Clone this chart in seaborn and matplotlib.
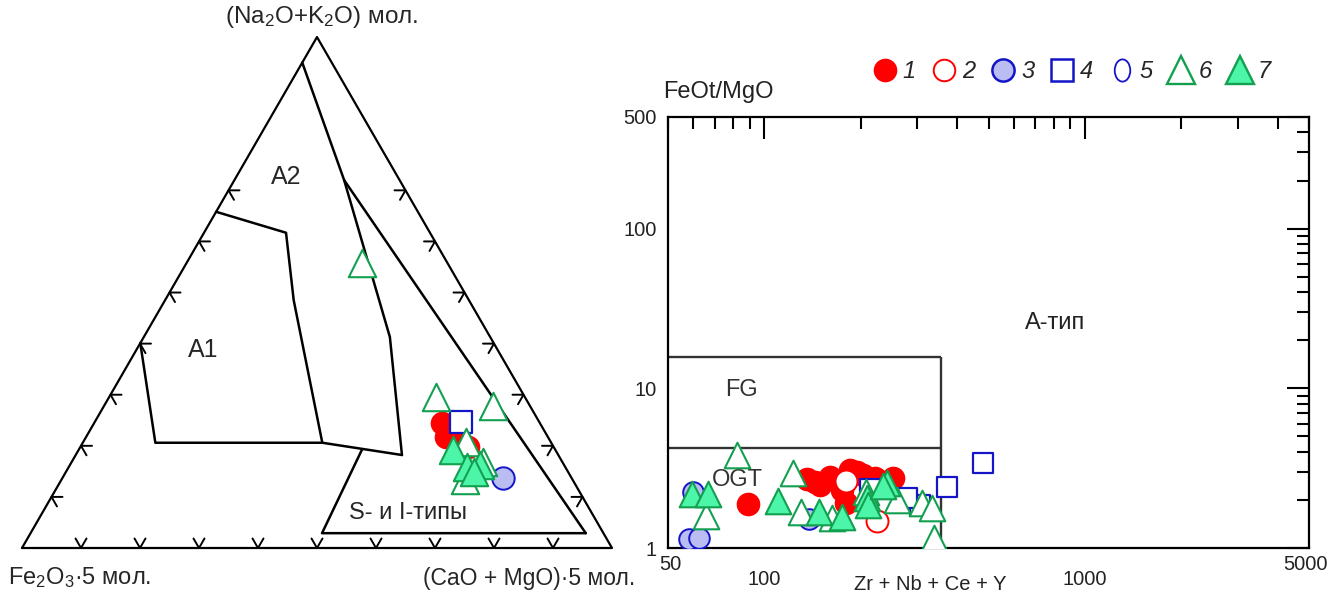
import numpy as np
import pandas as pd
import matplotlib
matplotlib.use('Agg')
import matplotlib.pyplot as plt
import seaborn as sns
from matplotlib.lines import Line2D
from matplotlib.path import Path
from matplotlib.transforms import Affine2D
from matplotlib.ticker import LogLocator, NullFormatter, FixedLocator, FixedFormatter

sns.set_theme(style='white')
plt.rcParams['font.family'] = ['Liberation Sans', 'DejaVu Sans']
plt.rcParams['mathtext.fontset'] = 'custom'
plt.rcParams['mathtext.rm'] = 'Liberation Sans'
plt.rcParams['mathtext.it'] = 'Liberation Sans:italic'
plt.rcParams['mathtext.default'] = 'rm'

# ---------------- Ternary data (percent: Na2O+K2O, Fe2O3*5, (CaO+MgO)*5) ----------------
t1_alk = [24.5, 21.7, 23.5, 21.1, 19.8]
t1_fe = [16.6, 17.3, 14.9, 15.2, 14.5]
t1_cam = [58.9, 61.0, 61.6, 63.7, 65.7]

t3_alk = [13.7]
t3_fe = [11.6]
t3_cam = [74.7]

t4_alk = [24.7]
t4_fe = [13.3]
t4_cam = [62.1]

t6_alk = [29.6, 27.8, 55.8, 13.3, 20.8, 16.8]
t6_fe = [15.1, 6.3, 14.5, 18.3, 14.4, 13.5]
t6_cam = [55.4, 65.9, 29.7, 68.4, 64.9, 69.7]

t7_alk = [19.2, 15.9, 16.2, 14.9]
t7_fe = [17.4, 16.7, 14.3, 16.0]
t7_cam = [63.5, 67.5, 69.5, 69.2]

# field boundaries (Na2O+K2O, CaO+MgO); Fe2O3 = remainder
line_a_alk = [95.0, 72.0, 41.3, 18.2]
line_a_cam = [0.0, 18.6, 41.7, 55.3]
line_b_alk = [72.0, 2.9]
line_b_cam = [18.6, 94.1]
line_c_alk = [65.8, 61.7, 48.5, 20.6, 18.2]
line_c_cam = [0.0, 13.9, 21.8, 40.6, 55.3]
line_d_alk = [40.1, 20.6, 20.6]
line_d_cam = [0.0, 12.3, 40.6]
line_e_alk = [19.2, 2.9, 2.9]
line_e_cam = [48.0, 49.4, 94.1]
tern_ticks = [10, 20, 30, 40, 50, 60, 70, 80, 90]
side_ticks = [10, 20, 30, 40, 50, 60, 70]

# ---------------- Whalen diagram data ----------------
g1_x = [136, 160, 175, 195, 203, 252, 179, 175, 89, 149, 185, 222, 144, 168]
g1_y = [2.70, 2.78, 2.66, 2.99, 2.86, 2.74, 1.91, 2.30, 1.88, 2.48, 3.07, 2.74, 2.58, 2.62]
g2_x = [179, 224]
g2_y = [2.62, 1.47]
g3_x = [60, 58.2, 62.5, 138]
g3_y = [2.24, 1.14, 1.15, 1.52]
g4_x = [479, 370, 306, 214, 279]
g4_y = [3.40, 2.41, 1.86, 2.34, 2.05]
g6_x = [82, 65.7, 123, 130, 162, 208, 260, 311, 334, 337]
g6_y = [3.81, 1.58, 2.94, 1.68, 1.54, 2.24, 1.99, 1.91, 1.78, 1.15]
g7_x = [59.4, 66.7, 110, 148, 175, 209, 210, 242, 235]
g7_y = [2.17, 2.17, 1.97, 1.68, 1.56, 2.05, 1.86, 2.55, 2.45]
fg_top = 15.6
ogt_top = 4.2
field_x = 355
legend_labels = ['1', '2', '3', '4', '5', '6', '7']

RED = '#ff0000'
BLUE = '#1414c8'
BLUEF = '#b9bdf2'
GREEN = '#12a050'
GREENF = '#4df5a8'


def tern_xy(alk, cam):
    t = np.asarray(alk, float) / 100.0
    r = np.asarray(cam, float) / 100.0
    return r + t / 2.0, t * np.sqrt(3) / 2.0


fig = plt.figure(figsize=(13.41, 6.01), dpi=100)

# ================= Ternary =================
ax1 = fig.add_axes([0, 0, 640 / 1341, 1])
ax1.set_xlim(-22 / 590, 618 / 590)
ax1.set_ylim(-53 / 590, 548 / 590)
ax1.axis('off')

tx, ty = tern_xy([0, 0, 100, 0], [0, 100, 0, 0])
ax1.plot(tx, ty, color='black', lw=1.6, zorder=2)
for la, lc in [(line_a_alk, line_a_cam), (line_b_alk, line_b_cam),
               (line_c_alk, line_c_cam), (line_d_alk, line_d_cam),
               (line_e_alk, line_e_cam)]:
    x, y = tern_xy(la, lc)
    ax1.plot(x, y, color='black', lw=1.8, zorder=2)

L = 11 / 590
h = np.sqrt(3) / 2
for f in tern_ticks:
    x0, y0 = tern_xy([0], [f])
    x0, y0 = x0[0], y0[0]
    ax1.plot([x0 - 0.5 * L, x0, x0 + 0.5 * L], [y0 + h * L, y0, y0 + h * L], color='black', lw=1.4)
for f in side_ticks:
    x0, y0 = tern_xy([f], [0])
    x0, y0 = x0[0], y0[0]
    ax1.plot([x0 + L, x0, x0 + 0.5 * L], [y0, y0, y0 - h * L], color='black', lw=1.4)
    x0, y0 = tern_xy([f], [100 - f])
    x0, y0 = x0[0], y0[0]
    ax1.plot([x0 - L, x0, x0 - 0.5 * L], [y0, y0, y0 - h * L], color='black', lw=1.4)

x, y = tern_xy(t1_alk, t1_cam)
sns.scatterplot(x=x, y=y, ax=ax1, marker='o', s=290, color=RED, edgecolor=RED, linewidth=0, zorder=3)
x, y = tern_xy(t4_alk, t4_cam)
sns.scatterplot(x=x, y=y, ax=ax1, marker='s', s=270, color='white', edgecolor=BLUE, linewidth=1.6, zorder=4)
x, y = tern_xy(t3_alk, t3_cam)
sns.scatterplot(x=x, y=y, ax=ax1, marker='o', s=260, color=BLUEF, edgecolor=BLUE, linewidth=1.4, zorder=3)
x, y = tern_xy(t6_alk, t6_cam)
sns.scatterplot(x=x, y=y, ax=ax1, marker='^', s=390, color='white', edgecolor=GREEN, linewidth=1.5, zorder=5)
x, y = tern_xy(t7_alk, t7_cam)
sns.scatterplot(x=x, y=y, ax=ax1, marker='^', s=390, color=GREENF, edgecolor=GREEN, linewidth=1.5, zorder=6)

ax1.text(0.5 + 5 / 590, 1.0 * h + 20 / 590, '(Na$_2$O+K$_2$O) мол.', ha='center', va='center', fontsize=17.5)
ax1.text(-14 / 590, -30 / 590, 'Fe$_2$O$_3$·5 мол.', ha='left', va='center', fontsize=17)
ax1.text(613 / 590, -30 / 590, '(CaO + MgO)·5 мол.', ha='right', va='center', fontsize=16.5)
ax1.text(264 / 590, 371 / 590, 'A2', ha='center', va='center', fontsize=18)
ax1.text(181 / 590, 198 / 590, 'A1', ha='center', va='center', fontsize=18)
ax1.text(386 / 590, 35 / 590, 'S- и I-типы', ha='center', va='center', fontsize=17)

# ================= Whalen diagram =================
ax2 = fig.add_axes([668 / 1341, 53 / 601, 641 / 1341, 431 / 601])
ax2.set_xscale('log')
ax2.set_yscale('log')
ax2.set_xlim(50, 5000)
ax2.set_ylim(1, 500)
for sp in ax2.spines.values():
    sp.set_color('black')
    sp.set_linewidth(1.6)

ax2.hlines([fg_top, ogt_top], 50, field_x, color='#333333', lw=1.7, zorder=1)
ax2.vlines([field_x], 1, fg_top, color='#333333', lw=1.7, zorder=1)

sns.scatterplot(x=g1_x, y=g1_y, ax=ax2, marker='o', s=290, color=RED, edgecolor=RED, linewidth=0, zorder=3)
sns.scatterplot(x=g2_x, y=g2_y, ax=ax2, marker='o', s=250, color='white', edgecolor=RED, linewidth=1.4, zorder=3)
sns.scatterplot(x=g3_x, y=g3_y, ax=ax2, marker='o', s=220, color=BLUEF, edgecolor=BLUE, linewidth=1.4, zorder=3)
sns.scatterplot(x=g4_x, y=g4_y, ax=ax2, marker='s', s=220, color='white', edgecolor=BLUE, linewidth=1.6, zorder=4)
sns.scatterplot(x=g6_x, y=g6_y, ax=ax2, marker='^', s=340, color='white', edgecolor=GREEN, linewidth=1.5, zorder=5)
sns.scatterplot(x=g7_x, y=g7_y, ax=ax2, marker='^', s=340, color=GREENF, edgecolor=GREEN, linewidth=1.5, zorder=6)

ax2.xaxis.set_major_locator(FixedLocator([100, 1000]))
ax2.xaxis.set_major_formatter(FixedFormatter(['100', '1000']))
ax2.xaxis.set_minor_locator(LogLocator(base=10, subs=np.arange(2, 10)))
ax2.xaxis.set_minor_formatter(NullFormatter())
ax2.yaxis.set_major_locator(FixedLocator([1, 10, 100, 500]))
ax2.yaxis.set_major_formatter(FixedFormatter(['1', '10', '100', '500']))
ax2.yaxis.set_minor_locator(LogLocator(base=10, subs=np.arange(2, 10)))
ax2.yaxis.set_minor_formatter(NullFormatter())
ax2.tick_params(which='both', direction='in', top=True, right=True, color='black', width=1.5, labelsize=14.5, labelcolor='#222222')
ax2.tick_params(which='major', length=16)
ax2.tick_params(which='minor', length=8.5)
ax2.tick_params(axis='x', which='major', pad=16)
ax2.tick_params(axis='y', which='major', pad=8)
ax2.annotate('50', xy=(50, 0), xycoords=('data', 'axes fraction'), xytext=(2, -17), textcoords='offset pixels',
             ha='center', va='center', fontsize=14.5, color='#222222')
ax2.annotate('5000', xy=(5000, 0), xycoords=('data', 'axes fraction'), xytext=(-4, -17), textcoords='offset pixels',
             ha='center', va='center', fontsize=14.5, color='#222222')

ax2.text(85, 9.7, 'FG', ha='center', va='center', fontsize=17, color='#333333')
ax2.text(82.6, 2.66, 'OGT', ha='center', va='center', fontsize=17, color='#333333')
ax2.text(809, 25.8, 'A-тип', ha='center', va='center', fontsize=17, color='#222222')

fig.text(663 / 1341, 1 - 92 / 601, 'FeOt/MgO', ha='left', va='center', fontsize=17, color='#222222')
fig.text(930 / 1341, 1 - 585 / 601, 'Zr + Nb + Ce + Y', ha='center', va='center', fontsize=14.5, color='#222222')

# ---------------- Legend ----------------
circ = Path.unit_circle()
ell_narrow = circ.transformed(Affine2D().scale(0.7, 1.0))
handles = [
    Line2D([], [], ls='', marker='o', ms=16, mfc=RED, mec=RED),
    Line2D([], [], ls='', marker='o', ms=15.5, mfc='white', mec=RED, mew=1.4),
    Line2D([], [], ls='', marker='o', ms=16, mfc=BLUEF, mec=BLUE, mew=1.8),
    Line2D([], [], ls='', marker='s', ms=16, mfc='white', mec=BLUE, mew=1.8),
    Line2D([], [], ls='', marker=ell_narrow, ms=16, mfc='white', mec=BLUE, mew=1.3),
    Line2D([], [], ls='', marker='^', ms=19.5, mfc='white', mec=GREEN, mew=1.7),
    Line2D([], [], ls='', marker='^', ms=19.5, mfc=GREENF, mec=GREEN, mew=1.7),
]
fig.legend(handles, legend_labels, ncol=7, loc='center', bbox_to_anchor=(1072 / 1341, 1 - 72 / 601),
           frameon=False, prop={'style': 'italic', 'size': 17}, handletextpad=0.25,
           columnspacing=0.7, handlelength=1.0, borderpad=0)

fig.savefig('out.png', dpi=100)
